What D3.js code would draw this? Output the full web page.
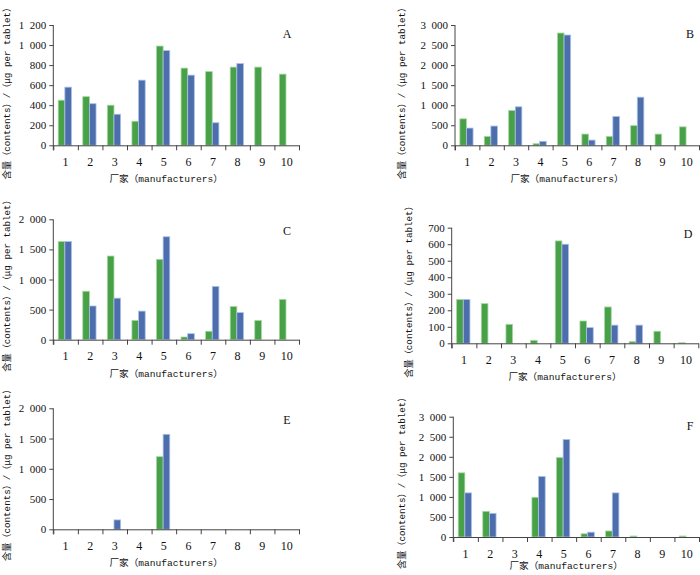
<!DOCTYPE html>
<html>
<head>
<meta charset="utf-8">
<script src="https://cdn.jsdelivr.net/npm/d3@7"></script>
<style>
body { margin: 0; background: #fff; }
svg { display: block; }
</style>
</head>
<body>
<div id="chart"></div>
<script>
// manufacturers 1..10
const manufacturers = ["1", "2", "3", "4", "5", "6", "7", "8", "9", "10"];

// contents per tablet, two series per panel (green / blue)
const greenA = [450, 485, 400, 240, 990, 770, 735, 780, 780, 710];
const blueA  = [580, 415, 310, 650, 945, 700, 225, 815, 0, 0];
const greenB = [660, 220, 870, 40, 2800, 280, 220, 490, 280, 460];
const blueB  = [430, 480, 960, 100, 2750, 130, 720, 1200, 0, 0];
const greenC = [1630, 805, 1390, 320, 1335, 45, 140, 550, 320, 670];
const blueC  = [1630, 560, 690, 475, 1710, 100, 885, 450, 0, 0];
const greenD = [265, 240, 115, 18, 620, 135, 220, 10, 73, 3];
const blueD  = [265, 0, 0, 0, 600, 95, 110, 110, 0, 0];
const greenE = [0, 0, 0, 0, 1200, 0, 0, 0, 0, 0];
const blueE  = [0, 0, 155, 0, 1570, 0, 0, 0, 0, 0];
const greenF = [1600, 640, 0, 990, 1980, 80, 150, 25, 0, 25];
const blueF  = [1100, 590, 0, 1510, 2430, 120, 1100, 0, 0, 0];

const ticksA = [0, 200, 400, 600, 800, 1000, 1200];
const ticksB = [0, 500, 1000, 1500, 2000, 2500, 3000];
const ticksC = [0, 500, 1000, 1500, 2000];
const ticksD = [0, 100, 200, 300, 400, 500, 600, 700];
const ticksE = [0, 500, 1000, 1500, 2000];
const ticksF = [0, 500, 1000, 1500, 2000, 2500, 3000];

const yTitle = "含量（contents）/（μg per tablet）";
const xTitle = "厂家（manufacturers）";

const width = 700, height = 575;

const svg = d3.select("#chart")
    .append("svg")
    .attr("width", width)
    .attr("height", height);

// panel placement on the page
const panels = [
    {name: "A", green: greenA, blue: blueA, ticks: ticksA, x0: 53.3, x1: 299, y0: 145.3, yTop: 25, lx: 287, ly: 38, tx: 7},
    {name: "B", green: greenB, blue: blueB, ticks: ticksB, x0: 455, x1: 699, y0: 145.3, yTop: 25, lx: 690, ly: 38, tx: 402},
    {name: "C", green: greenC, blue: blueC, ticks: ticksC, x0: 53.3, x1: 299, y0: 339.7, yTop: 219.3, lx: 287, ly: 235, tx: 7},
    {name: "D", green: greenD, blue: blueD, ticks: ticksD, x0: 451.7, x1: 698.3, y0: 343.3, yTop: 227.7, lx: 688, ly: 238, tx: 409},
    {name: "E", green: greenE, blue: blueE, ticks: ticksE, x0: 53.3, x1: 299, y0: 529.3, yTop: 408.3, lx: 287, ly: 424, tx: 7},
    {name: "F", green: greenF, blue: blueF, ticks: ticksF, x0: 453.3, x1: 699, y0: 537, yTop: 416.7, lx: 690, ly: 430, tx: 402}
];

// "1 200" style thousands
const fmt = (d) => d >= 1000 ? Math.floor(d / 1000) + "\u2002" + String(d % 1000).padStart(3, "0") : String(d);

const axisColor = "#444";
const serif = "'Liberation Serif', 'DejaVu Serif', serif";
const mono = "'Liberation Mono', 'Noto Sans CJK SC', monospace";

panels.forEach((p) => {
    const g = svg.append("g");

    const x = d3.scaleBand().domain(manufacturers).range([p.x0, p.x1]);
    const xl = d3.scaleLinear().domain([0, manufacturers.length]).range([p.x0, p.x1]);
    const y = d3.scaleLinear().domain([0, d3.max(p.ticks)]).range([p.y0, p.yTop]);
    const bw = x.bandwidth();

    const rows = manufacturers.map((m, i) => ({m: m, green: p.green[i], blue: p.blue[i]}));

    // bars
    g.selectAll(".g").data(rows.filter((d) => d.green > 0)).enter()
        .append("rect")
        .attr("x", (d) => x(d.m) + bw * 0.2)
        .attr("y", (d) => y(d.green))
        .attr("width", bw * 0.27)
        .attr("height", (d) => p.y0 - y(d.green))
        .style("fill", "#48a048")
        .style("stroke", "#a6d8a0")
        .style("stroke-width", 0.8);

    g.selectAll(".b").data(rows.filter((d) => d.blue > 0)).enter()
        .append("rect")
        .attr("x", (d) => x(d.m) + bw * 0.47)
        .attr("y", (d) => y(d.blue))
        .attr("width", bw * 0.27)
        .attr("height", (d) => p.y0 - y(d.blue))
        .style("fill", "#4d6dad")
        .style("stroke", "#a9c2e6")
        .style("stroke-width", 0.8);

    // y axis
    const ya = g.append("g")
        .attr("transform", "translate(" + p.x0 + ",0)")
        .call(d3.axisLeft(y).tickValues(p.ticks).tickFormat(fmt).tickSize(4).tickSizeOuter(0).tickPadding(3));
    ya.select(".domain").attr("d", "M0," + y(d3.max(p.ticks)) + "V" + (p.y0 + 5));

    // x axis: ticks between categories
    g.append("g")
        .attr("transform", "translate(0," + p.y0 + ")")
        .call(d3.axisBottom(xl).tickValues(d3.range(0, manufacturers.length + 1)).tickFormat("").tickSize(5).tickSizeOuter(0));

    // x labels
    const xa = g.append("g")
        .attr("transform", "translate(0," + p.y0 + ")")
        .call(d3.axisBottom(x).tickSize(0).tickPadding(12));
    xa.select(".domain").remove();

    g.selectAll(".domain, .tick line").style("stroke", axisColor);
    ya.selectAll("text").style("font-family", serif).style("font-size", "11px").style("fill", "#111");
    xa.selectAll("text").style("font-family", serif).style("font-size", "12px").style("fill", "#111");

    // panel letter
    g.append("text")
        .attr("x", p.lx)
        .attr("y", p.ly)
        .attr("text-anchor", "middle")
        .style("font-family", serif)
        .style("font-size", "12px")
        .style("fill", "#111")
        .text(p.name);

    // axis titles
    g.append("text")
        .attr("x", (p.x0 + p.x1) / 2 - 10)
        .attr("y", Math.min(p.y0 + 37, 569))
        .attr("text-anchor", "middle")
        .style("font-family", mono)
        .style("font-size", "9.6px")
        .style("fill", "#111")
        .text(xTitle);

    g.append("text")
        .attr("transform", "translate(" + p.tx + "," + Math.max((p.y0 + p.yTop) / 2 + 4, 91) + ") rotate(-90)")
        .attr("text-anchor", "middle")
        .attr("dominant-baseline", "central")
        .style("font-family", mono)
        .style("font-size", "9.2px")
        .style("fill", "#111")
        .text(yTitle);
});
</script>
</body>
</html>
